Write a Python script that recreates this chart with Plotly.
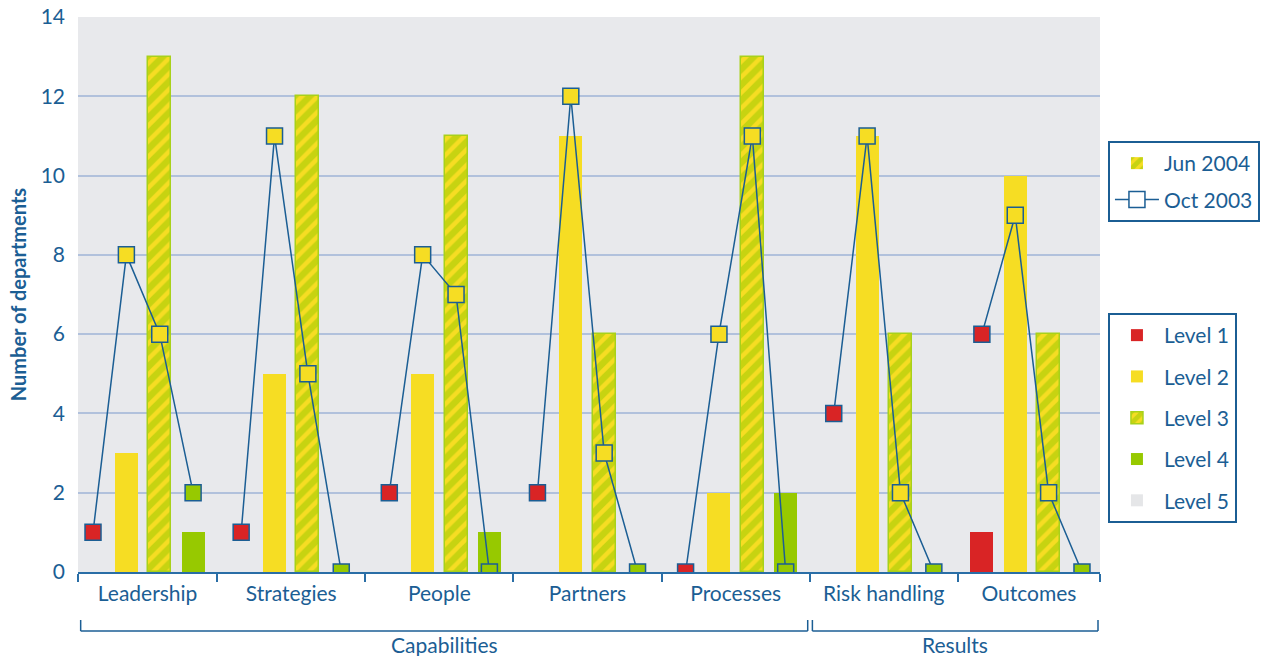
import plotly.graph_objects as go

# ---- data -------------------------------------------------------------
categories = ["Leadership", "Strategies", "People", "Partners",
              "Processes", "Risk handling", "Outcomes"]
levels = ["Level 1", "Level 2", "Level 3", "Level 4", "Level 5"]

# June 2004: number of departments at each level
jun_level1 = [0, 0, 0, 0, 0, 0, 1]
jun_level2 = [3, 5, 5, 11, 2, 11, 10]
jun_level3 = [13, 12, 11, 6, 13, 6, 6]
jun_level4 = [1, 0, 1, 0, 2, 0, 0]
jun_level5 = [0, 0, 0, 0, 0, 0, 0]

# October 2003: number of departments at levels 1-4
oct_level1 = [1, 1, 2, 2, 0, 4, 6]
oct_level2 = [8, 11, 8, 12, 6, 11, 9]
oct_level3 = [6, 5, 7, 3, 11, 2, 2]
oct_level4 = [2, 0, 0, 0, 0, 0, 0]

groups = ["Capabilities", "Results"]
group_sizes = [5, 2]
y_ticks = [0, 2, 4, 6, 8, 10, 12, 14]

# ---- styling ----------------------------------------------------------
BLUE = "#1b5e94"
AXIS_BLUE = "#2a6ea6"
RED = "#d92425"
YELLOW = "#f6dd23"
GREEN = "#97c900"
EDGE_GREEN = "#a8d11a"
GREY5 = "#e5e6e8"
PLOT_BG = "#e8e9ec"
GRID = "#b1c1dc"
FONT = "Lato"
FS = 21

level_colors = [RED, YELLOW, YELLOW, GREEN, GREY5]
STEP = 4.44          # distance between categories, in level slots
BAR_W = 0.69
n = len(categories)

jun_series = [jun_level1, jun_level2, jun_level3, jun_level4, jun_level5]
oct_series = [oct_level1, oct_level2, oct_level3, oct_level4]


def xpos(i, j):
    return i * STEP + j


hatch = dict(shape="/", fgcolor=GREEN, bgcolor=YELLOW, size=11, solidity=0.6)

fig = go.Figure()

# Jun 2004 bars, one trace per level
for j, (name, vals) in enumerate(zip(levels, jun_series)):
    marker = dict(color=level_colors[j], line=dict(width=0))
    if j == 2:
        marker = dict(color=YELLOW, pattern=hatch,
                      line=dict(color=EDGE_GREEN, width=1.5))
    fig.add_trace(go.Bar(
        x=[xpos(i, j) for i in range(n)], y=vals, width=BAR_W,
        name=name, marker=marker, legend="legend2",
        legendgroup=name, hoverinfo="y+name",
    ))

# Oct 2003 line: levels 1-4 joined within each category
lx, ly, lc = [], [], []
for i in range(n):
    for j, vals in enumerate(oct_series):
        lx.append(xpos(i, j))
        ly.append(vals[i])
        lc.append(level_colors[j])
    lx.append(None)
    ly.append(None)
    lc.append("white")
fig.add_trace(go.Scatter(
    x=lx, y=ly, mode="lines+markers", showlegend=False,
    line=dict(color=BLUE, width=1.5),
    marker=dict(symbol="square", size=16, color=lc,
                line=dict(color=BLUE, width=1.5)),
    connectgaps=False, name="Oct 2003",
))

# entries for the survey-date legend
fig.add_trace(go.Bar(
    x=[None], y=[None], name="Jun 2004", legend="legend",
    legendgroup="jun",
    marker=dict(color=YELLOW, pattern=hatch, line=dict(color=GREEN, width=0)),
))
fig.add_trace(go.Scatter(
    x=[None], y=[None], name="Oct 2003", mode="lines+markers",
    legend="legend", legendgroup="oct",
    line=dict(color=BLUE, width=1.5),
    marker=dict(symbol="square", size=16, color="white",
                line=dict(color=BLUE, width=1.5)),
))

# ---- axes geometry ----------------------------------------------------
x_left = -0.45
x_right = (n - 1) * STEP + 3 + 0.54
bounds = [x_left] + [i * STEP + (3 + STEP) / 2 for i in range(n - 1)] + [x_right]
mids = [(bounds[k] + bounds[k + 1]) / 2 for k in range(n)]

fig.update_layout(
    width=1271, height=656,
    margin=dict(l=78, r=170, t=17, b=84),
    paper_bgcolor="white", plot_bgcolor=PLOT_BG,
    barmode="overlay", bargap=0,
    font=dict(family=FONT, color=BLUE, size=FS),
    xaxis=dict(
        range=[x_left, x_right], tickmode="array", tickvals=mids,
        ticktext=categories, ticks="", showgrid=False, zeroline=False,
        showline=True, linecolor=AXIS_BLUE, linewidth=2, automargin=False,
        tickfont=dict(size=FS, color=BLUE), ticklabelstandoff=2,
        minor=dict(tickmode="array", tickvals=bounds, ticks="outside",
                   ticklen=8, tickcolor=AXIS_BLUE, tickwidth=1.5,
                   showgrid=False),
    ),
    yaxis=dict(
        range=[0, 14], tickmode="array", tickvals=y_ticks, automargin=False,
        showgrid=True, gridcolor=GRID, gridwidth=1.5, zeroline=False,
        showline=False, ticks="", tickfont=dict(size=FS, color=BLUE),
        ticklabelstandoff=12,
        title=dict(text="Number of departments", standoff=8,
                   font=dict(size=20, color=BLUE, weight="bold")),
    ),
    legend=dict(
        x=1.0068, y=0.7766, xanchor="left", yanchor="top",
        bordercolor=BLUE, borderwidth=2, bgcolor="white",
        font=dict(size=FS, color=BLUE), traceorder="grouped",
        tracegroupgap=6, itemwidth=44,
    ),
    legend2=dict(
        x=1.0068, y=0.4667, xanchor="left", yanchor="top",
        bordercolor=BLUE, borderwidth=2, bgcolor="white",
        font=dict(size=FS, color=BLUE), traceorder="grouped",
        tracegroupgap=11, itemwidth=44,
    ),
)

# ---- group brackets under the category labels ------------------------
y_line = -0.1063
y_tick = -0.0865
start = 0
for gname, size in zip(groups, group_sizes):
    gx0 = bounds[start] + 0.08
    gx1 = bounds[start + size] - 0.06
    for (a, b, c, d) in [(gx0, y_line, gx1, y_line),
                         (gx0, y_tick, gx0, y_line),
                         (gx1, y_tick, gx1, y_line)]:
        fig.add_shape(type="line", xref="x", yref="paper",
                      x0=a, y0=b, x1=c, y1=d,
                      line=dict(color=BLUE, width=1.5))
    fig.add_annotation(x=(gx0 + gx1) / 2, y=-0.1315, xref="x", yref="paper",
                       text=gname, showarrow=False, yanchor="middle",
                       font=dict(size=FS, color=BLUE))
    start += size

fig.write_html("out.html")
